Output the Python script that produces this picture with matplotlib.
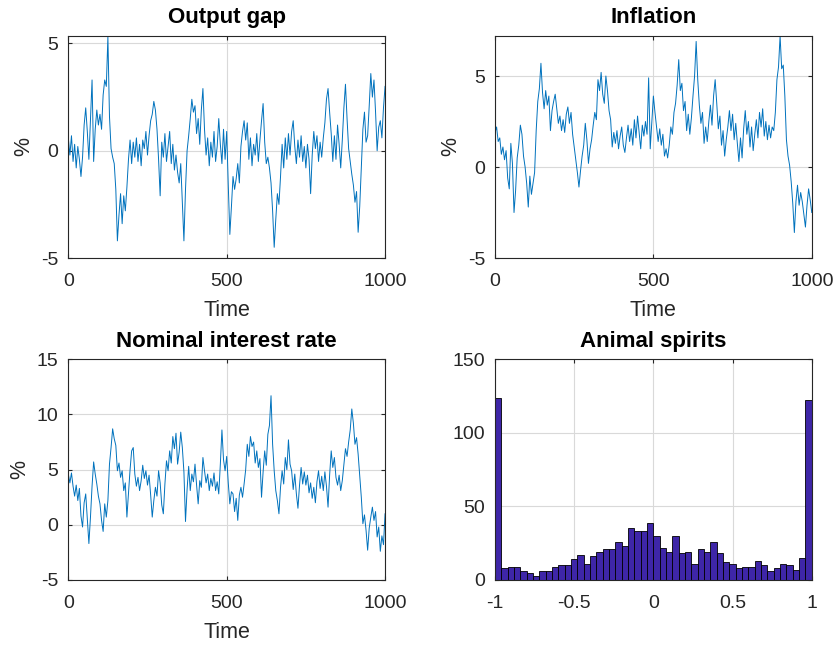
import numpy as np
import matplotlib
matplotlib.use("Agg")
import matplotlib.pyplot as plt

# values every 5 periods
time = np.arange(0, 1001, 5)

output_gap = [
    0.6, -0.2, 0.7, -0.5, 0.3, -0.8, 0.2, -0.4, -1.2, -0.3,
    1.2, 2.0, 0.9, -0.4, 1.5, 3.3, -0.5, 1.0, 1.9, 1.2,
    1.7, 1.0, 2.6, 3.3, 3.0, 5.3, 1.6, 0.1, -0.3, -0.6,
    -1.8, -4.2, -3.0, -2.0, -3.4, -2.1, -2.8, -1.7, -0.4, 0.5,
    -0.6, 0.4, -0.3, 0.6, -0.5, 0.3, -0.7, 0.5, 0.1, 0.9,
    -0.2, 0.7, 1.4, 1.7, 2.3, 1.9, 1.0, -0.4, -2.1, 0.4,
    -0.3, 0.8, -0.5, 0.2, 0.9, -0.6, 0.3, -0.9, -0.2, -1.0,
    -1.5, -0.6, -2.4, -4.2, -1.8, 0.0, 0.7, 1.5, 2.4, 1.8,
    2.1, 0.8, 1.5, 0.3, 1.9, 2.9, 1.0, -0.2, 0.6, -0.7,
    0.4, -0.3, 0.9, -0.5, 0.2, 1.5, 0.3, -0.6, 1.0, -0.4,
    0.9, -1.6, -3.9, -2.6, -1.2, -1.8, -1.3, -0.6, -1.5, 0.2,
    0.9, 1.4, 0.5, 1.3, -0.4, 0.6, -0.7, 0.3, -0.2, 0.8,
    -0.5, 0.5, 1.4, 2.2, 0.4, -0.6, -0.3, -0.8, -1.5, -2.8,
    -4.5, -3.2, -2.0, -2.5, -1.2, 0.3, -0.8, 0.6, -0.4, 0.8,
    -0.2, 0.9, 1.4, 0.2, -0.6, 0.5, -0.3, 0.7, -0.5, 0.2,
    -0.8, 0.3, -0.4, -2.0, -0.2, 0.9, 0.1, 0.7, -0.5, 0.4,
    -0.3, 0.6, 1.3, 2.4, 2.9, 1.8, 0.8, -0.5, 0.7, -0.4,
    1.2, 0.3, -0.8, 0.5, 2.0, 3.1, 1.5, 0.1, -0.5, -1.1,
    -1.6, -2.4, -1.9, -3.8, -2.6, -0.8, 1.0, 1.8, 0.4, 0.7,
    2.1, 3.6, 2.5, 3.3, 1.8, 0.0, 1.1, 1.4, 0.6, 2.0,
    3.0,
]

inflation = [
    1.9, 2.2, 1.4, 1.6, 0.7, 1.1, 0.4, 0.9, -0.6, -1.2,
    1.3, 0.2, -2.5, -1.3, 0.5, 1.2, 2.3, 1.8, 0.6, 0.0,
    -0.9, -2.2, -0.5, -1.5, -0.9, -0.3, 2.0, 3.6, 4.3, 5.7,
    4.1, 3.2, 4.2, 3.4, 3.9, 2.0, 3.1, 3.6, 4.0, 3.2,
    2.4, 2.8, 2.0, 2.6, 1.9, 2.9, 3.3, 2.4, 3.0, 1.8,
    1.1, 0.4, -0.3, -1.1, -0.2, 0.6, 1.2, 2.4, 1.5, 0.2,
    1.0, 1.5, 2.3, 3.0, 2.6, 4.8, 4.2, 5.2, 4.0, 3.5,
    5.0, 4.2, 3.1, 2.6, 1.1, 1.9, 1.3, 2.0, 1.0, 1.7,
    2.2, 1.2, 0.8, 1.6, 2.3, 1.4, 2.1, 1.2, 2.6, 1.6,
    2.8, 1.9, 1.0, 2.3, 1.7, 2.5, 1.8, 4.9, 1.0, 2.5,
    3.9, 3.0, 2.2, 1.4, 2.1, 1.2, 1.8, 0.6, 1.0, 0.5,
    1.2, 2.2, 1.8, 3.0, 3.5, 4.5, 5.9, 4.2, 4.6, 3.1,
    3.6, 2.0, 2.9, 1.8, 2.7, 3.9, 5.0, 6.9, 4.8, 3.4,
    2.4, 3.0, 1.3, 2.2, 1.4, 2.5, 3.4, 2.3, 3.9, 4.8,
    3.5, 2.1, 2.8, 1.2, 2.0, 0.6, 1.5, 2.2, 3.1, 2.0,
    2.9, 1.5, 2.4, 1.3, 0.3, 1.6, 0.5, 2.1, 3.1, 1.8,
    2.5, 1.1, 2.2, 0.9, 1.8, 2.6, 1.6, 3.0, 2.2, 3.2,
    1.7, 2.5, 1.5, 2.3, 1.6, 2.2, 2.0, 3.0, 4.8, 5.5,
    7.2, 5.4, 5.6, 3.9, 1.5, 0.6, 0.1, -0.8, -2.0, -3.6,
    -1.9, -1.0, -2.1, -1.4, -1.9, -2.6, -3.3, -2.1, -1.2, -1.8,
    -2.5,
]

interest_rate = [
    4.6, 3.8, 4.7, 3.5, 2.6, 3.6, 2.2, 3.3, 0.8, -0.2,
    2.0, 2.8, 0.5, -1.7, 0.7, 3.5, 5.7, 4.6, 3.7, 2.6,
    1.9, 0.4, -0.6, 1.9, 0.7, 2.2, 5.5, 7.0, 8.7, 7.8,
    7.2, 4.9, 5.6, 4.3, 4.9, 3.1, 3.8, 0.7, 2.9, 5.0,
    6.7, 7.0, 4.6, 3.5, 4.3, 3.1, 4.0, 5.4, 4.2, 4.9,
    3.6, 4.5, 2.7, 0.7, 2.2, 3.4, 2.6, 4.9, 3.8, 1.8,
    1.0, 3.7, 5.8, 4.9, 6.7, 5.6, 8.0, 6.9, 8.3, 5.5,
    6.6, 8.4, 7.0, 4.8, 0.3, 3.2, 5.3, 3.1, 4.6, 3.9,
    5.5, 3.6, 1.9, 4.0, 3.4, 6.1, 4.9, 3.8, 4.6, 3.1,
    4.2, 3.5, 4.7, 3.1, 3.9, 2.8, 5.5, 8.6, 5.9, 4.9,
    6.2, 3.8, 1.9, 3.0, 2.8, 1.2, 2.4, 0.4, 2.7, 3.4,
    2.5, 3.7, 5.0, 7.3, 6.2, 8.0, 7.1, 7.5, 5.6, 6.7,
    5.2, 6.0, 2.5, 4.8, 6.7, 5.4, 8.2, 9.0, 11.7, 7.3,
    4.9, 3.1, 2.2, 1.0, 3.4, 4.9, 3.7, 6.1, 5.0, 7.7,
    5.5, 4.9, 3.2, 4.6, 2.8, 1.5, 3.6, 5.2, 3.7, 4.8,
    3.6, 4.5, 2.9, 3.8, 2.4, 3.4, 2.0, 3.9, 4.9, 3.3,
    4.4, 3.1, 4.8, 3.5, 1.6, 4.5, 6.7, 5.2, 6.1, 4.3,
    3.6, 4.5, 3.1, 4.0, 5.5, 6.9, 6.2, 7.5, 8.6, 10.5,
    9.2, 7.3, 7.9, 6.4, 4.5, 2.5, 0.1, 0.9, -0.5, -2.3,
    -0.3, 0.7, 1.6, 0.4, 1.2, -1.1, -0.2, -2.4, -1.0, -1.8,
    1.0,
]

# animal spirits histogram: 50 bins on [-1, 1]
bin_edges = np.linspace(-1, 1, 51)
spirit_counts = [
    124, 8, 9, 9, 6, 5, 3, 6, 6, 9,
    10, 10, 14, 17, 11, 16, 19, 21, 21, 26,
    23, 35, 33, 33, 39, 30, 22, 19, 30, 18,
    19, 11, 21, 19, 26, 18, 12, 11, 8, 9,
    9, 13, 10, 6, 8, 11, 10, 7, 15, 122,
]

line_color = "#0072BD"
bar_color = "#3E26A8"
dark = "#262626"

plt.rcParams['font.family'] = ['Liberation Sans', 'DejaVu Sans']
plt.rcParams['axes.unicode_minus'] = False

fig = plt.figure(figsize=(8.38, 6.46), dpi=100)
positions = [
    [0.0815, 0.6006, 0.378, 0.3437],
    [0.5907, 0.6006, 0.378, 0.3437],
    [0.0815, 0.1022, 0.378, 0.3416],
    [0.5907, 0.1022, 0.378, 0.3416],
]
axes = [fig.add_axes(p) for p in positions]


def style(ax):
    ax.grid(True, color="#d9d9d9", linewidth=0.8)
    ax.set_axisbelow(True)
    ax.tick_params(direction="in", top=True, right=True, labelsize=14,
                   colors=dark, length=3)
    ax.tick_params(axis="x", pad=11)
    ax.tick_params(axis="y", pad=7)
    for s in ax.spines.values():
        s.set_color(dark)
        s.set_linewidth(0.8)


series = [
    (axes[0], output_gap, "Output gap", (-5, 5.35), [-5, 0, 5]),
    (axes[1], inflation, "Inflation", (-5, 7.2), [-5, 0, 5]),
    (axes[2], interest_rate, "Nominal interest rate", (-5, 15), [-5, 0, 5, 10, 15]),
]
for ax, values, title, ylim, yticks in series:
    ax.plot(time, values, color=line_color, linewidth=0.7)
    ax.set_xlim(0, 1000)
    ax.set_ylim(*ylim)
    ax.set_xticks([0, 500, 1000])
    ax.set_yticks(yticks)
    ax.set_xlabel("Time", fontsize=15.5, color=dark, labelpad=7)
    ax.set_ylabel("%", fontsize=15.5, color=dark, labelpad=5)
    ax.set_title(title, fontsize=16, fontweight="bold", color="black", pad=9)
    style(ax)

ax = axes[3]
ax.bar(bin_edges[:-1], spirit_counts, width=np.diff(bin_edges), align="edge",
       color=bar_color, edgecolor="black", linewidth=0.6)
ax.set_xlim(-1, 1)
ax.set_ylim(0, 150)
ax.set_xticks([-1, -0.5, 0, 0.5, 1])
ax.set_xticklabels(["-1", "-0.5", "0", "0.5", "1"])
ax.set_yticks([0, 50, 100, 150])
ax.set_title("Animal spirits", fontsize=16, fontweight="bold", color="black", pad=9)
style(ax)

fig.savefig("out.png", dpi=100)
